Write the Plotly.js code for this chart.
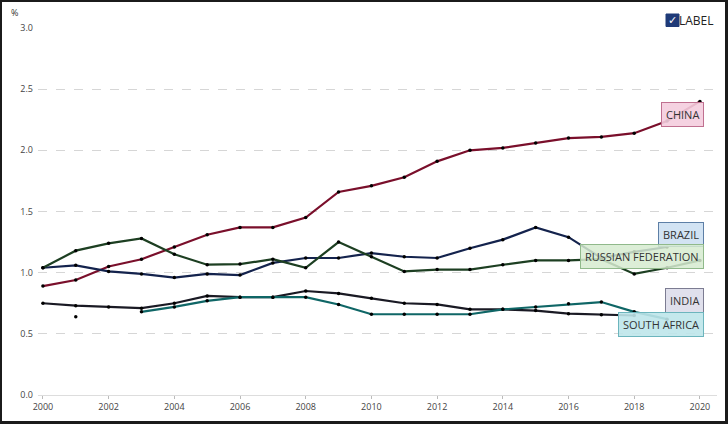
<!DOCTYPE html>
<html>
<head>
<meta charset="utf-8">
<script src="https://cdn.plot.ly/plotly-3.0.1.min.js"></script>
<style>
  body { margin: 0; background: #fff; }
  #wrap { position: relative; width: 728px; height: 424px; }
  #chart { width: 728px; height: 424px; }
  #frame { position: absolute; left: 0; top: 0; width: 728px; height: 424px; box-sizing: border-box;
           border: 2px solid #1b1b1b; border-right-width: 3px; border-bottom-width: 3px; pointer-events: none; }
</style>
</head>
<body>
<div id="wrap"><div id="chart"></div><div id="frame"></div></div>
<script>
// R&D spending, % of GDP
var years = [2000, 2001, 2002, 2003, 2004, 2005, 2006, 2007, 2008, 2009, 2010,
             2011, 2012, 2013, 2014, 2015, 2016, 2017, 2018, 2019, 2020];

var china  = [0.89, 0.94, 1.05, 1.11, 1.21, 1.31, 1.37, 1.37, 1.45, 1.66, 1.71,
              1.78, 1.91, 2.00, 2.02, 2.06, 2.10, 2.11, 2.14, 2.24, 2.40];
var brazil = [1.04, 1.06, 1.01, 0.99, 0.96, 0.99, 0.98, 1.08, 1.12, 1.12, 1.16,
              1.13, 1.12, 1.20, 1.27, 1.37, 1.29, 1.12, 1.17, 1.21, null];
var russia = [1.04, 1.18, 1.24, 1.28, 1.15, 1.065, 1.07, 1.11, 1.04, 1.25, 1.13,
              1.01, 1.025, 1.025, 1.065, 1.10, 1.10, 1.11, 0.99, 1.04, 1.10];
var india  = [0.75, 0.73, 0.72, 0.71, 0.75, 0.81, 0.80, 0.80, 0.85, 0.83, 0.79,
              0.75, 0.74, 0.70, 0.70, 0.69, 0.665, 0.656, 0.65, null, null];
var southAfrica = [null, 0.64, null, 0.68, 0.72, 0.77, 0.80, 0.80, 0.80, 0.74, 0.66,
              0.66, 0.66, 0.66, 0.70, 0.72, 0.745, 0.76, 0.68, 0.62, null];

var names  = ['CHINA', 'BRAZIL', 'RUSSIAN FEDERATION', 'INDIA', 'SOUTH AFRICA'];
var series = [china, brazil, russia, india, southAfrica];
var lineColors = ['#7a0f2b', '#14234d', '#1d3f22', '#1a1a24', '#0f6666'];

// label boxes at the right end: [x (right edge), y, fill, border]
var labelPos = [
  [2020.12, 2.29, 'rgba(244,205,222,0.9)', '#c07090'],
  [2020.12, 1.315, 'rgba(205,224,242,0.9)', '#5d7fa6'],
  [2020.12, 1.13, 'rgba(214,235,208,0.85)', '#90b98b'],
  [2020.12, 0.775, 'rgba(221,221,234,0.9)', '#7c7c92'],
  [2020.12, 0.575, 'rgba(190,229,234,0.9)', '#6cb5bd']
];

var data = [];
for (var i = 0; i < series.length; i++) {
  data.push({
    x: years,
    y: series[i],
    name: names[i],
    type: 'scatter',
    mode: 'lines+markers',
    connectgaps: false,
    line: { color: lineColors[i], width: 2.2 },
    marker: { color: '#000', size: 3.5 },
    hoverinfo: 'skip'
  });
}

var annotations = [];
for (var j = 0; j < names.length; j++) {
  annotations.push({
    x: labelPos[j][0], y: labelPos[j][1], xref: 'x', yref: 'y',
    xanchor: 'right', yanchor: 'middle',
    text: names[j], showarrow: false,
    font: { family: 'Open Sans, sans-serif', size: 11, color: '#333' },
    bgcolor: labelPos[j][2], bordercolor: labelPos[j][3], borderwidth: 1,
    borderpad: 4
  });
}
// y unit and the "LABEL" toggle
annotations.push({
  x: 0, y: 1, xref: 'paper', yref: 'paper', xshift: -29, yshift: 16,
  xanchor: 'left', yanchor: 'middle', text: '%', showarrow: false,
  font: { family: 'Open Sans, sans-serif', size: 9, color: '#333' }
});
annotations.push({
  x: 1, y: 1, xref: 'paper', yref: 'paper', xshift: -44.5, yshift: 7.5,
  xanchor: 'center', yanchor: 'middle', text: '✓', showarrow: false,
  font: { family: 'DejaVu Sans, sans-serif', size: 11, color: '#fff' }
});
annotations.push({
  x: 1, y: 1, xref: 'paper', yref: 'paper', xshift: -1, yshift: 8,
  xanchor: 'right', yanchor: 'middle', text: 'LABEL', showarrow: false,
  font: { family: 'Open Sans, sans-serif', size: 12, color: '#222' }
});

var shapes = [{
  type: 'rect', xref: 'paper', yref: 'paper',
  xsizemode: 'pixel', ysizemode: 'pixel', xanchor: 1, yanchor: 1,
  x0: -51, x1: -38, y0: 1.5, y1: 14,
  fillcolor: '#1f3a78', line: { color: '#1f3a78', width: 1 }, layer: 'above'
}];

var layout = {
  width: 728,
  height: 424,
  margin: { l: 38, r: 11, t: 28, b: 28.5 },
  paper_bgcolor: '#fff',
  plot_bgcolor: '#fff',
  showlegend: false,
  xaxis: {
    range: [1999.85, 2020.52],
    tickvals: [2000, 2002, 2004, 2006, 2008, 2010, 2012, 2014, 2016, 2018, 2020],
    ticks: 'outside', ticklen: 3, tickcolor: '#bbb',
    showgrid: false, zeroline: false,
    showline: true, linecolor: '#ddd', linewidth: 1,
    tickfont: { family: 'Open Sans, sans-serif', size: 9, color: '#444' }
  },
  yaxis: {
    range: [0, 3],
    dtick: 0.5, tickformat: '.1f',
    gridcolor: '#d6d6d6', griddash: 'dash', gridwidth: 1,
    zeroline: false, showline: false, ticks: '',
    ticklabelstandoff: 4,
    tickfont: { family: 'Open Sans, sans-serif', size: 9, color: '#444' }
  },
  shapes: shapes,
  annotations: annotations
};

Plotly.newPlot('chart', data, layout, { staticPlot: true });
</script>
</body>
</html>
